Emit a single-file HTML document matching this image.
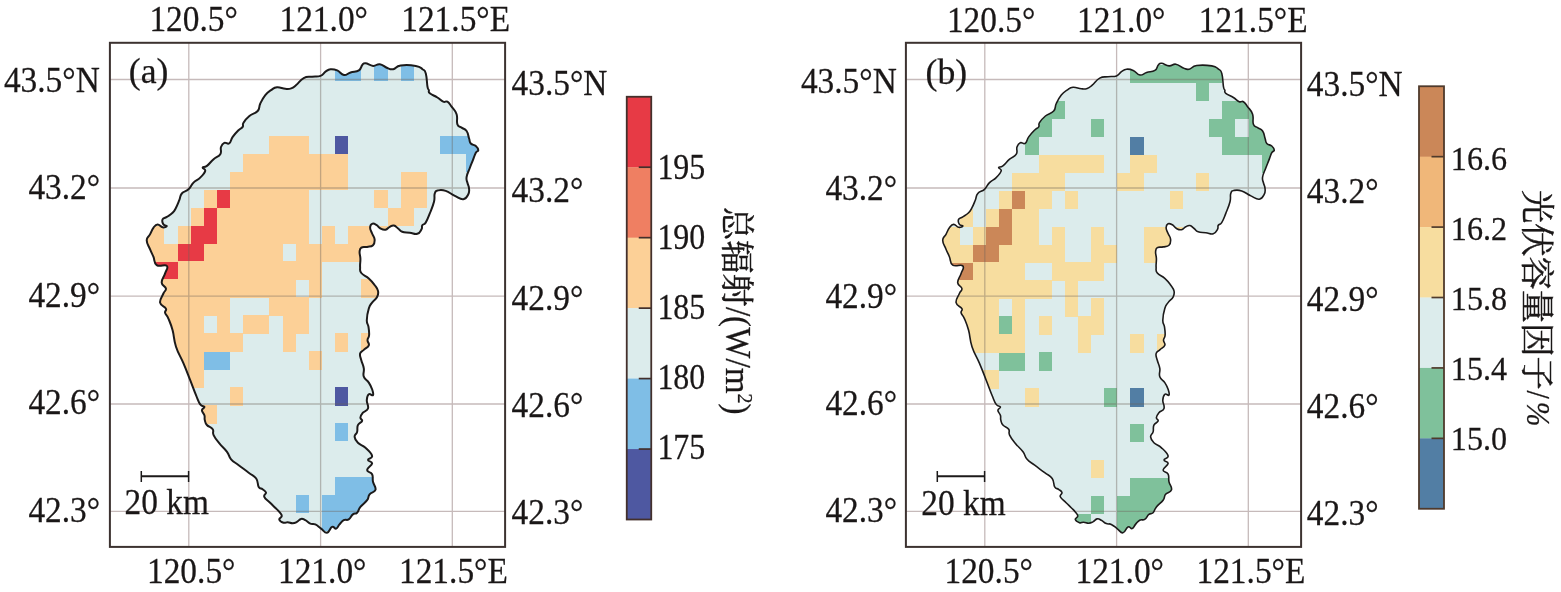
<!DOCTYPE html>
<html lang="zh"><head><meta charset="utf-8"><title>figure</title>
<style>html,body{margin:0;padding:0;background:#fff}svg{display:block}text{font-family:"Liberation Serif","Noto Serif CJK SC",serif;fill:#1a1717;stroke:#1a1717;stroke-width:0.25px}</style></head><body>
<svg width="1561" height="592" viewBox="0 0 1561 592">
<defs><clipPath id="oc"><path d="M258.70 486.90C257.21 484.38 258.53 481.81 256.20 478.50C253.87 475.19 252.78 475.80 248.70 472.70C244.62 469.60 242.81 468.33 238.70 465.20C234.59 462.07 233.83 462.43 231.10 459.30C228.37 456.17 229.73 455.51 227.00 451.80C224.27 448.09 222.53 447.30 219.40 443.40C216.27 439.50 215.16 438.41 213.60 435.10C212.04 431.79 214.26 431.56 212.70 429.20C211.14 426.84 208.74 427.15 206.90 425.00C205.06 422.85 205.38 422.26 204.80 420.00C204.22 417.74 205.08 417.56 204.40 415.30C203.72 413.04 201.90 412.26 201.90 410.30C201.90 408.34 204.80 408.28 204.40 406.90C204.00 405.52 202.16 407.13 200.20 404.40C198.24 401.67 198.33 400.85 196.00 395.20C193.67 389.55 193.12 387.62 190.20 380.20C187.28 372.78 186.81 371.22 183.50 363.40C180.19 355.58 178.54 354.42 176.00 346.70C173.46 338.98 174.37 336.86 172.60 330.30C170.83 323.74 170.15 322.71 168.40 318.60C166.65 314.49 165.68 315.03 165.10 312.70C164.52 310.37 167.07 310.93 165.90 308.60C164.73 306.27 160.68 306.22 160.10 302.70C159.52 299.18 162.05 296.81 163.40 293.50C164.75 290.19 166.30 291.04 165.90 288.50C165.50 285.96 161.89 286.12 161.70 282.60C161.51 279.08 163.91 277.30 165.10 273.40C166.29 269.50 168.76 267.84 166.80 265.90C164.84 263.96 159.83 267.25 156.70 265.10C153.57 262.95 154.96 260.41 153.40 256.70C151.84 252.99 151.56 253.03 150.00 249.20C148.44 245.37 146.70 243.75 146.70 240.30C146.70 236.85 148.44 237.32 150.00 234.40C151.56 231.48 151.63 230.13 153.40 227.80C155.17 225.47 155.45 224.52 157.60 224.40C159.75 224.28 160.45 226.90 162.60 227.30C164.75 227.70 166.61 226.78 166.80 226.10C166.99 225.42 164.38 225.96 163.40 224.40C162.42 222.84 161.81 221.15 162.60 219.40C163.39 217.65 164.47 218.46 166.80 216.90C169.13 215.34 170.45 214.85 172.60 212.70C174.75 210.55 174.44 210.62 176.00 207.70C177.56 204.78 177.95 203.51 179.30 200.20C180.65 196.89 179.65 196.04 181.80 193.50C183.95 190.96 185.77 191.84 188.50 189.30C191.23 186.76 190.77 185.33 193.50 182.60C196.23 179.87 197.47 180.33 200.20 177.60C202.93 174.87 204.62 173.23 205.20 170.90C205.78 168.57 202.30 168.77 202.70 167.60C203.10 166.43 204.36 167.86 206.90 165.90C209.44 163.94 210.47 161.93 213.60 159.20C216.73 156.47 218.57 157.05 220.30 154.20C222.03 151.35 220.07 149.66 221.00 147.00C221.93 144.34 222.36 143.66 224.30 142.80C226.24 141.94 227.34 144.68 229.30 143.30C231.26 141.92 230.55 139.96 232.70 136.90C234.85 133.84 236.17 132.53 238.50 130.20C240.83 127.87 241.53 128.65 242.70 126.90C243.87 125.15 241.94 125.24 243.50 122.70C245.06 120.16 246.09 118.73 249.40 116.00C252.71 113.27 255.16 113.92 257.70 111.00C260.24 108.08 258.53 107.21 260.30 103.50C262.07 99.79 262.78 98.23 265.30 95.10C267.82 91.97 268.37 91.92 271.10 90.10C273.83 88.28 273.69 87.60 277.00 87.30C280.31 87.00 281.99 88.54 285.30 88.80C288.61 89.06 288.66 89.26 291.20 88.40C293.74 87.54 293.28 87.50 296.20 85.10C299.12 82.70 299.99 80.06 303.70 78.10C307.41 76.14 308.18 77.21 312.10 76.70C316.02 76.19 317.37 77.07 320.50 75.90C323.63 74.73 323.17 73.26 325.50 71.70C327.83 70.14 327.77 69.50 330.50 69.20C333.23 68.90 334.07 69.05 337.20 70.40C340.33 71.75 340.77 74.51 343.90 75.00C347.03 75.49 347.10 73.57 350.60 72.50C354.10 71.43 356.17 72.15 358.90 70.40C361.63 68.65 360.74 66.66 362.30 65.00C363.86 63.34 363.08 63.09 365.60 63.30C368.12 63.51 369.79 65.69 373.10 65.90C376.41 66.11 376.49 63.71 379.80 64.20C383.11 64.69 384.17 66.83 387.30 68.00C390.43 69.17 390.07 69.78 393.20 69.20C396.33 68.62 395.43 66.27 400.70 65.50C405.97 64.73 410.71 65.04 415.80 65.90C420.89 66.76 420.17 67.45 422.50 69.20C424.83 70.95 424.63 69.29 425.80 73.40C426.97 77.51 426.80 82.90 427.50 86.80C428.20 90.70 428.26 88.58 428.80 90.10C429.34 91.62 427.79 91.57 429.80 93.30C431.81 95.03 434.27 95.54 437.40 97.50C440.53 99.46 440.87 100.72 443.20 101.70C445.53 102.68 445.44 100.53 447.40 101.70C449.36 102.87 449.45 103.78 451.60 106.70C453.75 109.62 455.25 110.09 456.60 114.20C457.95 118.31 456.23 121.17 457.40 124.30C458.57 127.43 459.45 126.04 461.60 127.60C463.75 129.16 464.85 128.46 466.60 131.00C468.35 133.54 468.12 135.58 469.10 138.50C470.08 141.42 469.24 141.75 470.80 143.50C472.36 145.25 474.05 144.44 475.80 146.00C477.55 147.56 478.30 148.64 478.30 150.20C478.30 151.76 477.08 150.32 475.80 152.70C474.52 155.08 474.20 156.83 472.80 160.40C471.40 163.97 471.25 164.13 469.80 168.00C468.35 171.87 467.14 173.50 466.60 177.00C466.06 180.50 466.94 180.39 467.50 183.00C468.06 185.61 468.81 185.59 469.00 188.20C469.19 190.81 469.63 191.63 468.30 194.20C466.97 196.77 466.43 198.80 463.30 199.20C460.17 199.60 459.01 197.84 454.90 195.90C450.79 193.96 449.60 192.18 445.70 190.90C441.80 189.62 440.74 189.82 438.20 190.40C435.66 190.98 435.78 190.76 434.80 193.40C433.82 196.04 435.17 197.03 434.00 201.70C432.83 206.37 431.74 208.52 429.80 213.40C427.86 218.28 427.45 219.85 425.70 222.60C423.95 225.35 423.28 223.64 422.30 225.20C421.32 226.76 422.67 227.29 421.50 229.30C420.33 231.31 420.03 233.01 417.30 233.80C414.57 234.59 413.32 233.17 409.80 232.70C406.28 232.23 404.93 232.78 402.20 231.80C399.47 230.82 400.04 229.97 398.10 228.50C396.16 227.03 395.86 225.90 393.90 225.50C391.94 225.10 391.66 225.82 389.70 226.80C387.74 227.78 387.65 229.30 385.50 229.70C383.35 230.10 382.65 229.64 380.50 228.50C378.35 227.36 378.26 225.90 376.30 224.80C374.34 223.70 373.55 223.12 372.10 223.80C370.65 224.48 370.10 225.44 370.10 227.70C370.10 229.96 371.05 230.77 372.10 233.50C373.15 236.23 374.39 236.67 374.60 239.40C374.81 242.13 374.75 243.45 373.00 245.20C371.25 246.95 369.83 246.32 367.10 246.90C364.37 247.48 363.05 246.53 361.30 247.70C359.55 248.87 359.81 249.36 359.60 251.90C359.39 254.44 360.28 255.08 360.40 258.60C360.52 262.12 359.89 263.64 360.10 267.00C360.31 270.36 359.27 270.34 361.30 273.00C363.33 275.66 365.70 275.60 368.80 278.40C371.90 281.20 372.45 282.08 374.60 285.00C376.75 287.92 377.39 288.15 378.00 290.90C378.61 293.65 378.58 294.07 377.20 296.80C375.82 299.53 374.06 299.87 372.10 302.60C370.14 305.33 370.04 304.39 368.80 308.50C367.56 312.61 366.87 315.91 366.80 320.20C366.73 324.49 367.96 323.40 368.50 326.90C369.04 330.40 369.33 332.10 369.10 335.20C368.87 338.30 367.57 337.84 367.50 340.20C367.43 342.56 369.66 343.04 368.80 345.30C367.94 347.56 365.83 347.96 363.80 349.90C361.77 351.84 360.68 351.17 360.10 353.60C359.52 356.03 360.44 356.85 361.30 360.30C362.16 363.75 363.22 364.57 363.80 368.40C364.38 372.23 362.63 373.39 363.80 376.70C364.97 380.01 366.86 379.66 368.80 382.60C370.74 385.54 371.12 386.38 372.10 389.30C373.08 392.22 373.77 393.93 373.00 395.10C372.23 396.27 370.25 393.13 368.80 394.30C367.35 395.47 366.99 396.79 366.80 400.10C366.61 403.41 368.91 405.56 368.00 408.50C367.09 411.44 364.67 410.55 362.90 412.70C361.13 414.85 360.59 415.76 360.40 417.70C360.21 419.64 362.68 419.25 362.10 421.00C361.52 422.75 359.07 422.66 357.90 425.20C356.73 427.74 357.87 429.17 357.10 431.90C356.33 434.63 354.41 434.36 354.60 436.90C354.79 439.44 355.36 440.26 357.90 442.80C360.44 445.34 362.19 444.74 365.50 447.80C368.81 450.86 371.52 453.05 372.10 455.90C372.68 458.75 368.00 458.25 368.00 460.00C368.00 461.75 372.31 461.04 372.10 463.40C371.89 465.76 367.10 467.58 367.10 470.10C367.10 472.62 370.72 471.47 372.10 474.20C373.48 476.93 372.21 478.16 373.00 481.80C373.79 485.44 376.29 486.88 375.50 489.80C374.71 492.72 371.56 491.87 369.60 494.30C367.64 496.73 369.25 497.26 367.10 500.20C364.95 503.14 362.73 503.98 360.40 506.90C358.07 509.82 358.85 510.95 357.10 512.70C355.35 514.45 354.86 512.84 352.90 514.40C350.94 515.96 350.85 518.05 348.70 519.40C346.55 520.75 345.85 519.03 343.70 520.20C341.55 521.37 341.25 522.44 339.50 524.40C337.75 526.36 337.95 528.02 336.20 528.60C334.45 529.18 334.15 525.92 332.00 526.90C329.85 527.88 329.54 532.40 327.00 532.80C324.46 533.20 323.83 530.56 321.10 528.60C318.37 526.64 317.82 525.57 315.30 524.40C312.78 523.23 312.63 524.58 310.30 523.60C307.97 522.62 307.45 521.30 305.30 520.20C303.15 519.10 303.06 518.50 301.10 518.90C299.14 519.30 298.86 520.90 296.90 521.90C294.94 522.90 294.85 523.13 292.70 523.20C290.55 523.27 289.85 522.32 287.70 522.20C285.55 522.08 285.46 523.35 283.50 522.70C281.54 522.05 279.70 520.94 279.30 519.40C278.90 517.86 281.80 517.85 281.80 516.10C281.80 514.35 280.84 513.86 279.30 511.90C277.76 509.94 277.35 509.85 275.20 507.70C273.05 505.55 272.64 505.24 270.10 502.70C267.56 500.16 265.26 499.16 264.30 496.80C263.34 494.44 266.40 494.35 266.00 492.60C265.60 490.85 264.30 490.63 262.60 489.30C260.90 487.97 260.19 489.42 258.70 486.90Z"/></clipPath></defs>
<rect width="1561" height="592" fill="#fff"/>
<g transform="translate(0,0)">
<line x1="188.80" y1="43" x2="188.80" y2="546.5" stroke="#c6baba" stroke-width="1.3"/>
<line x1="320.60" y1="43" x2="320.60" y2="546.5" stroke="#c6baba" stroke-width="1.3"/>
<line x1="452.30" y1="43" x2="452.30" y2="546.5" stroke="#c6baba" stroke-width="1.3"/>
<line x1="109.5" y1="79.50" x2="505.3" y2="79.50" stroke="#c6baba" stroke-width="1.3"/>
<line x1="109.5" y1="188.00" x2="505.3" y2="188.00" stroke="#c6baba" stroke-width="1.3"/>
<line x1="109.5" y1="296.20" x2="505.3" y2="296.20" stroke="#c6baba" stroke-width="1.3"/>
<line x1="109.5" y1="404.00" x2="505.3" y2="404.00" stroke="#c6baba" stroke-width="1.3"/>
<line x1="109.5" y1="511.40" x2="505.3" y2="511.40" stroke="#c6baba" stroke-width="1.3"/>
<g clip-path="url(#oc)" shape-rendering="crispEdges">
<rect x="140" y="60" width="345" height="480" fill="#dcecec"/>
<rect x="335.00" y="64.00" width="26.25" height="16.90" fill="#7fbee6"/>
<rect x="374.38" y="64.00" width="13.12" height="16.90" fill="#7fbee6"/>
<rect x="400.62" y="64.00" width="13.12" height="16.90" fill="#7fbee6"/>
<rect x="440.00" y="135.80" width="39.38" height="18.45" fill="#7fbee6"/>
<rect x="466.25" y="153.75" width="13.12" height="18.45" fill="#7fbee6"/>
<rect x="203.75" y="351.20" width="26.25" height="18.45" fill="#7fbee6"/>
<rect x="335.00" y="423.00" width="13.12" height="18.45" fill="#7fbee6"/>
<rect x="335.00" y="476.85" width="52.50" height="18.45" fill="#7fbee6"/>
<rect x="295.62" y="494.80" width="13.12" height="18.45" fill="#7fbee6"/>
<rect x="321.88" y="494.80" width="65.62" height="18.45" fill="#7fbee6"/>
<rect x="321.88" y="512.75" width="52.50" height="18.45" fill="#7fbee6"/>
<rect x="335.00" y="135.80" width="13.12" height="18.45" fill="#4e58a1"/>
<rect x="335.00" y="387.10" width="13.12" height="18.45" fill="#4e58a1"/>
<rect x="216.88" y="189.65" width="13.12" height="18.45" fill="#e73a45"/>
<rect x="203.75" y="207.60" width="13.12" height="18.45" fill="#e73a45"/>
<rect x="190.62" y="225.55" width="26.25" height="18.45" fill="#e73a45"/>
<rect x="177.50" y="243.50" width="26.25" height="18.45" fill="#e73a45"/>
<rect x="138.12" y="261.45" width="39.38" height="18.45" fill="#e73a45"/>
<rect x="269.38" y="135.80" width="39.38" height="18.45" fill="#fcd097"/>
<rect x="243.12" y="153.75" width="105.00" height="18.45" fill="#fcd097"/>
<rect x="230.00" y="171.70" width="118.12" height="18.45" fill="#fcd097"/>
<rect x="400.62" y="171.70" width="26.25" height="18.45" fill="#fcd097"/>
<rect x="203.75" y="189.65" width="13.12" height="18.45" fill="#fcd097"/>
<rect x="230.00" y="189.65" width="78.75" height="18.45" fill="#fcd097"/>
<rect x="374.38" y="189.65" width="13.12" height="18.45" fill="#fcd097"/>
<rect x="400.62" y="189.65" width="26.25" height="18.45" fill="#fcd097"/>
<rect x="190.62" y="207.60" width="13.12" height="18.45" fill="#fcd097"/>
<rect x="216.88" y="207.60" width="91.88" height="18.45" fill="#fcd097"/>
<rect x="387.50" y="207.60" width="26.25" height="18.45" fill="#fcd097"/>
<rect x="138.12" y="225.55" width="26.25" height="18.45" fill="#fcd097"/>
<rect x="177.50" y="225.55" width="13.12" height="18.45" fill="#fcd097"/>
<rect x="216.88" y="225.55" width="91.88" height="18.45" fill="#fcd097"/>
<rect x="321.88" y="225.55" width="13.12" height="18.45" fill="#fcd097"/>
<rect x="348.12" y="225.55" width="39.38" height="18.45" fill="#fcd097"/>
<rect x="138.12" y="243.50" width="39.38" height="18.45" fill="#fcd097"/>
<rect x="203.75" y="243.50" width="78.75" height="18.45" fill="#fcd097"/>
<rect x="295.62" y="243.50" width="78.75" height="18.45" fill="#fcd097"/>
<rect x="177.50" y="261.45" width="144.38" height="18.45" fill="#fcd097"/>
<rect x="138.12" y="279.40" width="157.50" height="18.45" fill="#fcd097"/>
<rect x="308.75" y="279.40" width="13.12" height="18.45" fill="#fcd097"/>
<rect x="361.25" y="279.40" width="26.25" height="18.45" fill="#fcd097"/>
<rect x="138.12" y="297.35" width="91.88" height="18.45" fill="#fcd097"/>
<rect x="269.38" y="297.35" width="39.38" height="18.45" fill="#fcd097"/>
<rect x="138.12" y="315.30" width="65.62" height="18.45" fill="#fcd097"/>
<rect x="216.88" y="315.30" width="13.12" height="18.45" fill="#fcd097"/>
<rect x="243.12" y="315.30" width="26.25" height="18.45" fill="#fcd097"/>
<rect x="282.50" y="315.30" width="26.25" height="18.45" fill="#fcd097"/>
<rect x="138.12" y="333.25" width="105.00" height="18.45" fill="#fcd097"/>
<rect x="282.50" y="333.25" width="13.12" height="18.45" fill="#fcd097"/>
<rect x="335.00" y="333.25" width="13.12" height="18.45" fill="#fcd097"/>
<rect x="361.25" y="333.25" width="26.25" height="18.45" fill="#fcd097"/>
<rect x="164.38" y="351.20" width="39.38" height="18.45" fill="#fcd097"/>
<rect x="308.75" y="351.20" width="13.12" height="18.45" fill="#fcd097"/>
<rect x="177.50" y="369.15" width="26.25" height="18.45" fill="#fcd097"/>
<rect x="230.00" y="387.10" width="13.12" height="18.45" fill="#fcd097"/>
<rect x="190.62" y="405.05" width="26.25" height="18.45" fill="#fcd097"/>
</g>
<g clip-path="url(#oc)" opacity="0.4">
<line x1="188.80" y1="43" x2="188.80" y2="546.5" stroke="#6e625a" stroke-width="1.3"/>
<line x1="320.60" y1="43" x2="320.60" y2="546.5" stroke="#6e625a" stroke-width="1.3"/>
<line x1="452.30" y1="43" x2="452.30" y2="546.5" stroke="#6e625a" stroke-width="1.3"/>
<line x1="109.5" y1="79.50" x2="505.3" y2="79.50" stroke="#6e625a" stroke-width="1.3"/>
<line x1="109.5" y1="188.00" x2="505.3" y2="188.00" stroke="#6e625a" stroke-width="1.3"/>
<line x1="109.5" y1="296.20" x2="505.3" y2="296.20" stroke="#6e625a" stroke-width="1.3"/>
<line x1="109.5" y1="404.00" x2="505.3" y2="404.00" stroke="#6e625a" stroke-width="1.3"/>
<line x1="109.5" y1="511.40" x2="505.3" y2="511.40" stroke="#6e625a" stroke-width="1.3"/>
</g>
<path d="M258.70 486.90C257.21 484.38 258.53 481.81 256.20 478.50C253.87 475.19 252.78 475.80 248.70 472.70C244.62 469.60 242.81 468.33 238.70 465.20C234.59 462.07 233.83 462.43 231.10 459.30C228.37 456.17 229.73 455.51 227.00 451.80C224.27 448.09 222.53 447.30 219.40 443.40C216.27 439.50 215.16 438.41 213.60 435.10C212.04 431.79 214.26 431.56 212.70 429.20C211.14 426.84 208.74 427.15 206.90 425.00C205.06 422.85 205.38 422.26 204.80 420.00C204.22 417.74 205.08 417.56 204.40 415.30C203.72 413.04 201.90 412.26 201.90 410.30C201.90 408.34 204.80 408.28 204.40 406.90C204.00 405.52 202.16 407.13 200.20 404.40C198.24 401.67 198.33 400.85 196.00 395.20C193.67 389.55 193.12 387.62 190.20 380.20C187.28 372.78 186.81 371.22 183.50 363.40C180.19 355.58 178.54 354.42 176.00 346.70C173.46 338.98 174.37 336.86 172.60 330.30C170.83 323.74 170.15 322.71 168.40 318.60C166.65 314.49 165.68 315.03 165.10 312.70C164.52 310.37 167.07 310.93 165.90 308.60C164.73 306.27 160.68 306.22 160.10 302.70C159.52 299.18 162.05 296.81 163.40 293.50C164.75 290.19 166.30 291.04 165.90 288.50C165.50 285.96 161.89 286.12 161.70 282.60C161.51 279.08 163.91 277.30 165.10 273.40C166.29 269.50 168.76 267.84 166.80 265.90C164.84 263.96 159.83 267.25 156.70 265.10C153.57 262.95 154.96 260.41 153.40 256.70C151.84 252.99 151.56 253.03 150.00 249.20C148.44 245.37 146.70 243.75 146.70 240.30C146.70 236.85 148.44 237.32 150.00 234.40C151.56 231.48 151.63 230.13 153.40 227.80C155.17 225.47 155.45 224.52 157.60 224.40C159.75 224.28 160.45 226.90 162.60 227.30C164.75 227.70 166.61 226.78 166.80 226.10C166.99 225.42 164.38 225.96 163.40 224.40C162.42 222.84 161.81 221.15 162.60 219.40C163.39 217.65 164.47 218.46 166.80 216.90C169.13 215.34 170.45 214.85 172.60 212.70C174.75 210.55 174.44 210.62 176.00 207.70C177.56 204.78 177.95 203.51 179.30 200.20C180.65 196.89 179.65 196.04 181.80 193.50C183.95 190.96 185.77 191.84 188.50 189.30C191.23 186.76 190.77 185.33 193.50 182.60C196.23 179.87 197.47 180.33 200.20 177.60C202.93 174.87 204.62 173.23 205.20 170.90C205.78 168.57 202.30 168.77 202.70 167.60C203.10 166.43 204.36 167.86 206.90 165.90C209.44 163.94 210.47 161.93 213.60 159.20C216.73 156.47 218.57 157.05 220.30 154.20C222.03 151.35 220.07 149.66 221.00 147.00C221.93 144.34 222.36 143.66 224.30 142.80C226.24 141.94 227.34 144.68 229.30 143.30C231.26 141.92 230.55 139.96 232.70 136.90C234.85 133.84 236.17 132.53 238.50 130.20C240.83 127.87 241.53 128.65 242.70 126.90C243.87 125.15 241.94 125.24 243.50 122.70C245.06 120.16 246.09 118.73 249.40 116.00C252.71 113.27 255.16 113.92 257.70 111.00C260.24 108.08 258.53 107.21 260.30 103.50C262.07 99.79 262.78 98.23 265.30 95.10C267.82 91.97 268.37 91.92 271.10 90.10C273.83 88.28 273.69 87.60 277.00 87.30C280.31 87.00 281.99 88.54 285.30 88.80C288.61 89.06 288.66 89.26 291.20 88.40C293.74 87.54 293.28 87.50 296.20 85.10C299.12 82.70 299.99 80.06 303.70 78.10C307.41 76.14 308.18 77.21 312.10 76.70C316.02 76.19 317.37 77.07 320.50 75.90C323.63 74.73 323.17 73.26 325.50 71.70C327.83 70.14 327.77 69.50 330.50 69.20C333.23 68.90 334.07 69.05 337.20 70.40C340.33 71.75 340.77 74.51 343.90 75.00C347.03 75.49 347.10 73.57 350.60 72.50C354.10 71.43 356.17 72.15 358.90 70.40C361.63 68.65 360.74 66.66 362.30 65.00C363.86 63.34 363.08 63.09 365.60 63.30C368.12 63.51 369.79 65.69 373.10 65.90C376.41 66.11 376.49 63.71 379.80 64.20C383.11 64.69 384.17 66.83 387.30 68.00C390.43 69.17 390.07 69.78 393.20 69.20C396.33 68.62 395.43 66.27 400.70 65.50C405.97 64.73 410.71 65.04 415.80 65.90C420.89 66.76 420.17 67.45 422.50 69.20C424.83 70.95 424.63 69.29 425.80 73.40C426.97 77.51 426.80 82.90 427.50 86.80C428.20 90.70 428.26 88.58 428.80 90.10C429.34 91.62 427.79 91.57 429.80 93.30C431.81 95.03 434.27 95.54 437.40 97.50C440.53 99.46 440.87 100.72 443.20 101.70C445.53 102.68 445.44 100.53 447.40 101.70C449.36 102.87 449.45 103.78 451.60 106.70C453.75 109.62 455.25 110.09 456.60 114.20C457.95 118.31 456.23 121.17 457.40 124.30C458.57 127.43 459.45 126.04 461.60 127.60C463.75 129.16 464.85 128.46 466.60 131.00C468.35 133.54 468.12 135.58 469.10 138.50C470.08 141.42 469.24 141.75 470.80 143.50C472.36 145.25 474.05 144.44 475.80 146.00C477.55 147.56 478.30 148.64 478.30 150.20C478.30 151.76 477.08 150.32 475.80 152.70C474.52 155.08 474.20 156.83 472.80 160.40C471.40 163.97 471.25 164.13 469.80 168.00C468.35 171.87 467.14 173.50 466.60 177.00C466.06 180.50 466.94 180.39 467.50 183.00C468.06 185.61 468.81 185.59 469.00 188.20C469.19 190.81 469.63 191.63 468.30 194.20C466.97 196.77 466.43 198.80 463.30 199.20C460.17 199.60 459.01 197.84 454.90 195.90C450.79 193.96 449.60 192.18 445.70 190.90C441.80 189.62 440.74 189.82 438.20 190.40C435.66 190.98 435.78 190.76 434.80 193.40C433.82 196.04 435.17 197.03 434.00 201.70C432.83 206.37 431.74 208.52 429.80 213.40C427.86 218.28 427.45 219.85 425.70 222.60C423.95 225.35 423.28 223.64 422.30 225.20C421.32 226.76 422.67 227.29 421.50 229.30C420.33 231.31 420.03 233.01 417.30 233.80C414.57 234.59 413.32 233.17 409.80 232.70C406.28 232.23 404.93 232.78 402.20 231.80C399.47 230.82 400.04 229.97 398.10 228.50C396.16 227.03 395.86 225.90 393.90 225.50C391.94 225.10 391.66 225.82 389.70 226.80C387.74 227.78 387.65 229.30 385.50 229.70C383.35 230.10 382.65 229.64 380.50 228.50C378.35 227.36 378.26 225.90 376.30 224.80C374.34 223.70 373.55 223.12 372.10 223.80C370.65 224.48 370.10 225.44 370.10 227.70C370.10 229.96 371.05 230.77 372.10 233.50C373.15 236.23 374.39 236.67 374.60 239.40C374.81 242.13 374.75 243.45 373.00 245.20C371.25 246.95 369.83 246.32 367.10 246.90C364.37 247.48 363.05 246.53 361.30 247.70C359.55 248.87 359.81 249.36 359.60 251.90C359.39 254.44 360.28 255.08 360.40 258.60C360.52 262.12 359.89 263.64 360.10 267.00C360.31 270.36 359.27 270.34 361.30 273.00C363.33 275.66 365.70 275.60 368.80 278.40C371.90 281.20 372.45 282.08 374.60 285.00C376.75 287.92 377.39 288.15 378.00 290.90C378.61 293.65 378.58 294.07 377.20 296.80C375.82 299.53 374.06 299.87 372.10 302.60C370.14 305.33 370.04 304.39 368.80 308.50C367.56 312.61 366.87 315.91 366.80 320.20C366.73 324.49 367.96 323.40 368.50 326.90C369.04 330.40 369.33 332.10 369.10 335.20C368.87 338.30 367.57 337.84 367.50 340.20C367.43 342.56 369.66 343.04 368.80 345.30C367.94 347.56 365.83 347.96 363.80 349.90C361.77 351.84 360.68 351.17 360.10 353.60C359.52 356.03 360.44 356.85 361.30 360.30C362.16 363.75 363.22 364.57 363.80 368.40C364.38 372.23 362.63 373.39 363.80 376.70C364.97 380.01 366.86 379.66 368.80 382.60C370.74 385.54 371.12 386.38 372.10 389.30C373.08 392.22 373.77 393.93 373.00 395.10C372.23 396.27 370.25 393.13 368.80 394.30C367.35 395.47 366.99 396.79 366.80 400.10C366.61 403.41 368.91 405.56 368.00 408.50C367.09 411.44 364.67 410.55 362.90 412.70C361.13 414.85 360.59 415.76 360.40 417.70C360.21 419.64 362.68 419.25 362.10 421.00C361.52 422.75 359.07 422.66 357.90 425.20C356.73 427.74 357.87 429.17 357.10 431.90C356.33 434.63 354.41 434.36 354.60 436.90C354.79 439.44 355.36 440.26 357.90 442.80C360.44 445.34 362.19 444.74 365.50 447.80C368.81 450.86 371.52 453.05 372.10 455.90C372.68 458.75 368.00 458.25 368.00 460.00C368.00 461.75 372.31 461.04 372.10 463.40C371.89 465.76 367.10 467.58 367.10 470.10C367.10 472.62 370.72 471.47 372.10 474.20C373.48 476.93 372.21 478.16 373.00 481.80C373.79 485.44 376.29 486.88 375.50 489.80C374.71 492.72 371.56 491.87 369.60 494.30C367.64 496.73 369.25 497.26 367.10 500.20C364.95 503.14 362.73 503.98 360.40 506.90C358.07 509.82 358.85 510.95 357.10 512.70C355.35 514.45 354.86 512.84 352.90 514.40C350.94 515.96 350.85 518.05 348.70 519.40C346.55 520.75 345.85 519.03 343.70 520.20C341.55 521.37 341.25 522.44 339.50 524.40C337.75 526.36 337.95 528.02 336.20 528.60C334.45 529.18 334.15 525.92 332.00 526.90C329.85 527.88 329.54 532.40 327.00 532.80C324.46 533.20 323.83 530.56 321.10 528.60C318.37 526.64 317.82 525.57 315.30 524.40C312.78 523.23 312.63 524.58 310.30 523.60C307.97 522.62 307.45 521.30 305.30 520.20C303.15 519.10 303.06 518.50 301.10 518.90C299.14 519.30 298.86 520.90 296.90 521.90C294.94 522.90 294.85 523.13 292.70 523.20C290.55 523.27 289.85 522.32 287.70 522.20C285.55 522.08 285.46 523.35 283.50 522.70C281.54 522.05 279.70 520.94 279.30 519.40C278.90 517.86 281.80 517.85 281.80 516.10C281.80 514.35 280.84 513.86 279.30 511.90C277.76 509.94 277.35 509.85 275.20 507.70C273.05 505.55 272.64 505.24 270.10 502.70C267.56 500.16 265.26 499.16 264.30 496.80C263.34 494.44 266.40 494.35 266.00 492.60C265.60 490.85 264.30 490.63 262.60 489.30C260.90 487.97 260.19 489.42 258.70 486.90Z" fill="none" stroke="#1c1a1a" stroke-width="2" stroke-linejoin="round"/>
<rect x="109.9" y="42.8" width="395.2" height="504.1" fill="none" stroke="#3c3230" stroke-width="2"/>
<path d="M141.3 471V482M188.6 471V482" stroke="#1c1a1a" stroke-width="1.5" fill="none"/><path d="M141.3 476.3H188.6" stroke="#1c1a1a" stroke-width="2.1" fill="none"/>
<text transform="translate(124.50,513.60) scale(0.935,1)" font-size="35.70" text-anchor="start" >20 km</text>
<text transform="translate(128.80,83.30) scale(1.000,1)" font-size="35.70" text-anchor="start" >(a)</text>
<text transform="translate(149.40,31.10) scale(0.935,1)" font-size="35.70" text-anchor="start" >120.5°</text>
<text transform="translate(279.50,31.10) scale(0.935,1)" font-size="35.70" text-anchor="start" >121.0°</text>
<text transform="translate(401.25,31.10) scale(0.935,1)" font-size="35.70" text-anchor="start" >121.5°E</text>
<text transform="translate(147.00,582.80) scale(0.935,1)" font-size="35.70" text-anchor="start" >120.5°</text>
<text transform="translate(278.00,582.80) scale(0.935,1)" font-size="35.70" text-anchor="start" >121.0°</text>
<text transform="translate(399.00,582.80) scale(0.935,1)" font-size="35.70" text-anchor="start" >121.5°E</text>
<text transform="translate(3.90,91.70) scale(0.935,1)" font-size="35.70" text-anchor="start" >43.5°N</text>
<text transform="translate(511.60,95.00) scale(0.935,1)" font-size="35.70" text-anchor="start" >43.5°N</text>
<text transform="translate(28.40,199.15) scale(0.935,1)" font-size="35.70" text-anchor="start" >43.2°</text>
<text transform="translate(511.60,202.35) scale(0.935,1)" font-size="35.70" text-anchor="start" >43.2°</text>
<text transform="translate(28.40,306.60) scale(0.935,1)" font-size="35.70" text-anchor="start" >42.9°</text>
<text transform="translate(511.60,309.70) scale(0.935,1)" font-size="35.70" text-anchor="start" >42.9°</text>
<text transform="translate(28.40,414.05) scale(0.935,1)" font-size="35.70" text-anchor="start" >42.6°</text>
<text transform="translate(511.60,417.05) scale(0.935,1)" font-size="35.70" text-anchor="start" >42.6°</text>
<text transform="translate(28.40,521.50) scale(0.935,1)" font-size="35.70" text-anchor="start" >42.3°</text>
<text transform="translate(511.60,524.40) scale(0.935,1)" font-size="35.70" text-anchor="start" >42.3°</text>
</g>
<g transform="translate(796,0)">
<line x1="188.80" y1="43" x2="188.80" y2="546.5" stroke="#c6baba" stroke-width="1.3"/>
<line x1="320.60" y1="43" x2="320.60" y2="546.5" stroke="#c6baba" stroke-width="1.3"/>
<line x1="452.30" y1="43" x2="452.30" y2="546.5" stroke="#c6baba" stroke-width="1.3"/>
<line x1="109.5" y1="79.50" x2="505.3" y2="79.50" stroke="#c6baba" stroke-width="1.3"/>
<line x1="109.5" y1="188.00" x2="505.3" y2="188.00" stroke="#c6baba" stroke-width="1.3"/>
<line x1="109.5" y1="296.20" x2="505.3" y2="296.20" stroke="#c6baba" stroke-width="1.3"/>
<line x1="109.5" y1="404.00" x2="505.3" y2="404.00" stroke="#c6baba" stroke-width="1.3"/>
<line x1="109.5" y1="511.40" x2="505.3" y2="511.40" stroke="#c6baba" stroke-width="1.3"/>
<g clip-path="url(#oc)" shape-rendering="crispEdges">
<rect x="140" y="60" width="345" height="480" fill="#dcecec"/>
<rect x="334.40" y="65.00" width="91.88" height="18.45" fill="#7fc19b"/>
<rect x="400.02" y="82.95" width="13.12" height="18.45" fill="#7fc19b"/>
<rect x="242.52" y="100.90" width="26.25" height="18.45" fill="#7fc19b"/>
<rect x="426.27" y="100.90" width="39.38" height="18.45" fill="#7fc19b"/>
<rect x="229.40" y="118.85" width="26.25" height="18.45" fill="#7fc19b"/>
<rect x="295.02" y="118.85" width="13.12" height="18.45" fill="#7fc19b"/>
<rect x="413.15" y="118.85" width="26.25" height="18.45" fill="#7fc19b"/>
<rect x="452.52" y="118.85" width="26.25" height="18.45" fill="#7fc19b"/>
<rect x="229.40" y="136.80" width="13.12" height="18.45" fill="#7fc19b"/>
<rect x="426.27" y="136.80" width="52.50" height="18.45" fill="#7fc19b"/>
<rect x="465.65" y="154.75" width="13.12" height="18.45" fill="#7fc19b"/>
<rect x="203.15" y="316.30" width="13.12" height="18.45" fill="#7fc19b"/>
<rect x="203.15" y="352.20" width="26.25" height="18.45" fill="#7fc19b"/>
<rect x="242.52" y="352.20" width="13.12" height="18.45" fill="#7fc19b"/>
<rect x="308.15" y="388.10" width="13.12" height="18.45" fill="#7fc19b"/>
<rect x="334.40" y="424.00" width="13.12" height="18.45" fill="#7fc19b"/>
<rect x="334.40" y="477.85" width="52.50" height="18.45" fill="#7fc19b"/>
<rect x="295.02" y="495.80" width="13.12" height="18.45" fill="#7fc19b"/>
<rect x="321.27" y="495.80" width="65.62" height="18.45" fill="#7fc19b"/>
<rect x="268.77" y="513.75" width="26.25" height="18.45" fill="#7fc19b"/>
<rect x="321.27" y="513.75" width="52.50" height="18.45" fill="#7fc19b"/>
<rect x="334.40" y="136.80" width="13.12" height="18.45" fill="#527ea4"/>
<rect x="334.40" y="388.10" width="13.12" height="18.45" fill="#527ea4"/>
<rect x="216.27" y="190.65" width="13.12" height="18.45" fill="#cb8758"/>
<rect x="203.15" y="208.60" width="13.12" height="18.45" fill="#cb8758"/>
<rect x="190.02" y="226.55" width="26.25" height="18.45" fill="#cb8758"/>
<rect x="176.90" y="244.50" width="26.25" height="18.45" fill="#cb8758"/>
<rect x="137.52" y="262.45" width="39.38" height="18.45" fill="#cb8758"/>
<rect x="242.52" y="154.75" width="65.62" height="18.45" fill="#f7dd9f"/>
<rect x="334.40" y="154.75" width="26.25" height="18.45" fill="#f7dd9f"/>
<rect x="216.27" y="172.70" width="52.50" height="18.45" fill="#f7dd9f"/>
<rect x="321.27" y="172.70" width="26.25" height="18.45" fill="#f7dd9f"/>
<rect x="400.02" y="172.70" width="13.12" height="18.45" fill="#f7dd9f"/>
<rect x="203.15" y="190.65" width="13.12" height="18.45" fill="#f7dd9f"/>
<rect x="229.40" y="190.65" width="26.25" height="18.45" fill="#f7dd9f"/>
<rect x="268.77" y="190.65" width="13.12" height="18.45" fill="#f7dd9f"/>
<rect x="373.77" y="190.65" width="13.12" height="18.45" fill="#f7dd9f"/>
<rect x="163.77" y="208.60" width="13.12" height="18.45" fill="#f7dd9f"/>
<rect x="190.02" y="208.60" width="13.12" height="18.45" fill="#f7dd9f"/>
<rect x="216.27" y="208.60" width="26.25" height="18.45" fill="#f7dd9f"/>
<rect x="137.52" y="226.55" width="26.25" height="18.45" fill="#f7dd9f"/>
<rect x="176.90" y="226.55" width="13.12" height="18.45" fill="#f7dd9f"/>
<rect x="216.27" y="226.55" width="26.25" height="18.45" fill="#f7dd9f"/>
<rect x="255.65" y="226.55" width="13.12" height="18.45" fill="#f7dd9f"/>
<rect x="295.02" y="226.55" width="13.12" height="18.45" fill="#f7dd9f"/>
<rect x="347.52" y="226.55" width="39.38" height="18.45" fill="#f7dd9f"/>
<rect x="137.52" y="244.50" width="39.38" height="18.45" fill="#f7dd9f"/>
<rect x="203.15" y="244.50" width="65.62" height="18.45" fill="#f7dd9f"/>
<rect x="295.02" y="244.50" width="26.25" height="18.45" fill="#f7dd9f"/>
<rect x="347.52" y="244.50" width="26.25" height="18.45" fill="#f7dd9f"/>
<rect x="176.90" y="262.45" width="52.50" height="18.45" fill="#f7dd9f"/>
<rect x="255.65" y="262.45" width="52.50" height="18.45" fill="#f7dd9f"/>
<rect x="137.52" y="280.40" width="118.12" height="18.45" fill="#f7dd9f"/>
<rect x="268.77" y="280.40" width="13.12" height="18.45" fill="#f7dd9f"/>
<rect x="137.52" y="298.35" width="65.62" height="18.45" fill="#f7dd9f"/>
<rect x="216.27" y="298.35" width="13.12" height="18.45" fill="#f7dd9f"/>
<rect x="268.77" y="298.35" width="13.12" height="18.45" fill="#f7dd9f"/>
<rect x="295.02" y="298.35" width="13.12" height="18.45" fill="#f7dd9f"/>
<rect x="137.52" y="316.30" width="65.62" height="18.45" fill="#f7dd9f"/>
<rect x="216.27" y="316.30" width="13.12" height="18.45" fill="#f7dd9f"/>
<rect x="242.52" y="316.30" width="13.12" height="18.45" fill="#f7dd9f"/>
<rect x="281.90" y="316.30" width="26.25" height="18.45" fill="#f7dd9f"/>
<rect x="137.52" y="334.25" width="91.88" height="18.45" fill="#f7dd9f"/>
<rect x="281.90" y="334.25" width="13.12" height="18.45" fill="#f7dd9f"/>
<rect x="334.40" y="334.25" width="13.12" height="18.45" fill="#f7dd9f"/>
<rect x="360.65" y="334.25" width="26.25" height="18.45" fill="#f7dd9f"/>
<rect x="176.90" y="370.15" width="26.25" height="18.45" fill="#f7dd9f"/>
<rect x="229.40" y="388.10" width="13.12" height="18.45" fill="#f7dd9f"/>
<rect x="295.02" y="459.90" width="13.12" height="18.45" fill="#f7dd9f"/>
</g>
<g clip-path="url(#oc)" opacity="0.4">
<line x1="188.80" y1="43" x2="188.80" y2="546.5" stroke="#6e625a" stroke-width="1.3"/>
<line x1="320.60" y1="43" x2="320.60" y2="546.5" stroke="#6e625a" stroke-width="1.3"/>
<line x1="452.30" y1="43" x2="452.30" y2="546.5" stroke="#6e625a" stroke-width="1.3"/>
<line x1="109.5" y1="79.50" x2="505.3" y2="79.50" stroke="#6e625a" stroke-width="1.3"/>
<line x1="109.5" y1="188.00" x2="505.3" y2="188.00" stroke="#6e625a" stroke-width="1.3"/>
<line x1="109.5" y1="296.20" x2="505.3" y2="296.20" stroke="#6e625a" stroke-width="1.3"/>
<line x1="109.5" y1="404.00" x2="505.3" y2="404.00" stroke="#6e625a" stroke-width="1.3"/>
<line x1="109.5" y1="511.40" x2="505.3" y2="511.40" stroke="#6e625a" stroke-width="1.3"/>
</g>
<path d="M258.70 486.90C257.21 484.38 258.53 481.81 256.20 478.50C253.87 475.19 252.78 475.80 248.70 472.70C244.62 469.60 242.81 468.33 238.70 465.20C234.59 462.07 233.83 462.43 231.10 459.30C228.37 456.17 229.73 455.51 227.00 451.80C224.27 448.09 222.53 447.30 219.40 443.40C216.27 439.50 215.16 438.41 213.60 435.10C212.04 431.79 214.26 431.56 212.70 429.20C211.14 426.84 208.74 427.15 206.90 425.00C205.06 422.85 205.38 422.26 204.80 420.00C204.22 417.74 205.08 417.56 204.40 415.30C203.72 413.04 201.90 412.26 201.90 410.30C201.90 408.34 204.80 408.28 204.40 406.90C204.00 405.52 202.16 407.13 200.20 404.40C198.24 401.67 198.33 400.85 196.00 395.20C193.67 389.55 193.12 387.62 190.20 380.20C187.28 372.78 186.81 371.22 183.50 363.40C180.19 355.58 178.54 354.42 176.00 346.70C173.46 338.98 174.37 336.86 172.60 330.30C170.83 323.74 170.15 322.71 168.40 318.60C166.65 314.49 165.68 315.03 165.10 312.70C164.52 310.37 167.07 310.93 165.90 308.60C164.73 306.27 160.68 306.22 160.10 302.70C159.52 299.18 162.05 296.81 163.40 293.50C164.75 290.19 166.30 291.04 165.90 288.50C165.50 285.96 161.89 286.12 161.70 282.60C161.51 279.08 163.91 277.30 165.10 273.40C166.29 269.50 168.76 267.84 166.80 265.90C164.84 263.96 159.83 267.25 156.70 265.10C153.57 262.95 154.96 260.41 153.40 256.70C151.84 252.99 151.56 253.03 150.00 249.20C148.44 245.37 146.70 243.75 146.70 240.30C146.70 236.85 148.44 237.32 150.00 234.40C151.56 231.48 151.63 230.13 153.40 227.80C155.17 225.47 155.45 224.52 157.60 224.40C159.75 224.28 160.45 226.90 162.60 227.30C164.75 227.70 166.61 226.78 166.80 226.10C166.99 225.42 164.38 225.96 163.40 224.40C162.42 222.84 161.81 221.15 162.60 219.40C163.39 217.65 164.47 218.46 166.80 216.90C169.13 215.34 170.45 214.85 172.60 212.70C174.75 210.55 174.44 210.62 176.00 207.70C177.56 204.78 177.95 203.51 179.30 200.20C180.65 196.89 179.65 196.04 181.80 193.50C183.95 190.96 185.77 191.84 188.50 189.30C191.23 186.76 190.77 185.33 193.50 182.60C196.23 179.87 197.47 180.33 200.20 177.60C202.93 174.87 204.62 173.23 205.20 170.90C205.78 168.57 202.30 168.77 202.70 167.60C203.10 166.43 204.36 167.86 206.90 165.90C209.44 163.94 210.47 161.93 213.60 159.20C216.73 156.47 218.57 157.05 220.30 154.20C222.03 151.35 220.07 149.66 221.00 147.00C221.93 144.34 222.36 143.66 224.30 142.80C226.24 141.94 227.34 144.68 229.30 143.30C231.26 141.92 230.55 139.96 232.70 136.90C234.85 133.84 236.17 132.53 238.50 130.20C240.83 127.87 241.53 128.65 242.70 126.90C243.87 125.15 241.94 125.24 243.50 122.70C245.06 120.16 246.09 118.73 249.40 116.00C252.71 113.27 255.16 113.92 257.70 111.00C260.24 108.08 258.53 107.21 260.30 103.50C262.07 99.79 262.78 98.23 265.30 95.10C267.82 91.97 268.37 91.92 271.10 90.10C273.83 88.28 273.69 87.60 277.00 87.30C280.31 87.00 281.99 88.54 285.30 88.80C288.61 89.06 288.66 89.26 291.20 88.40C293.74 87.54 293.28 87.50 296.20 85.10C299.12 82.70 299.99 80.06 303.70 78.10C307.41 76.14 308.18 77.21 312.10 76.70C316.02 76.19 317.37 77.07 320.50 75.90C323.63 74.73 323.17 73.26 325.50 71.70C327.83 70.14 327.77 69.50 330.50 69.20C333.23 68.90 334.07 69.05 337.20 70.40C340.33 71.75 340.77 74.51 343.90 75.00C347.03 75.49 347.10 73.57 350.60 72.50C354.10 71.43 356.17 72.15 358.90 70.40C361.63 68.65 360.74 66.66 362.30 65.00C363.86 63.34 363.08 63.09 365.60 63.30C368.12 63.51 369.79 65.69 373.10 65.90C376.41 66.11 376.49 63.71 379.80 64.20C383.11 64.69 384.17 66.83 387.30 68.00C390.43 69.17 390.07 69.78 393.20 69.20C396.33 68.62 395.43 66.27 400.70 65.50C405.97 64.73 410.71 65.04 415.80 65.90C420.89 66.76 420.17 67.45 422.50 69.20C424.83 70.95 424.63 69.29 425.80 73.40C426.97 77.51 426.80 82.90 427.50 86.80C428.20 90.70 428.26 88.58 428.80 90.10C429.34 91.62 427.79 91.57 429.80 93.30C431.81 95.03 434.27 95.54 437.40 97.50C440.53 99.46 440.87 100.72 443.20 101.70C445.53 102.68 445.44 100.53 447.40 101.70C449.36 102.87 449.45 103.78 451.60 106.70C453.75 109.62 455.25 110.09 456.60 114.20C457.95 118.31 456.23 121.17 457.40 124.30C458.57 127.43 459.45 126.04 461.60 127.60C463.75 129.16 464.85 128.46 466.60 131.00C468.35 133.54 468.12 135.58 469.10 138.50C470.08 141.42 469.24 141.75 470.80 143.50C472.36 145.25 474.05 144.44 475.80 146.00C477.55 147.56 478.30 148.64 478.30 150.20C478.30 151.76 477.08 150.32 475.80 152.70C474.52 155.08 474.20 156.83 472.80 160.40C471.40 163.97 471.25 164.13 469.80 168.00C468.35 171.87 467.14 173.50 466.60 177.00C466.06 180.50 466.94 180.39 467.50 183.00C468.06 185.61 468.81 185.59 469.00 188.20C469.19 190.81 469.63 191.63 468.30 194.20C466.97 196.77 466.43 198.80 463.30 199.20C460.17 199.60 459.01 197.84 454.90 195.90C450.79 193.96 449.60 192.18 445.70 190.90C441.80 189.62 440.74 189.82 438.20 190.40C435.66 190.98 435.78 190.76 434.80 193.40C433.82 196.04 435.17 197.03 434.00 201.70C432.83 206.37 431.74 208.52 429.80 213.40C427.86 218.28 427.45 219.85 425.70 222.60C423.95 225.35 423.28 223.64 422.30 225.20C421.32 226.76 422.67 227.29 421.50 229.30C420.33 231.31 420.03 233.01 417.30 233.80C414.57 234.59 413.32 233.17 409.80 232.70C406.28 232.23 404.93 232.78 402.20 231.80C399.47 230.82 400.04 229.97 398.10 228.50C396.16 227.03 395.86 225.90 393.90 225.50C391.94 225.10 391.66 225.82 389.70 226.80C387.74 227.78 387.65 229.30 385.50 229.70C383.35 230.10 382.65 229.64 380.50 228.50C378.35 227.36 378.26 225.90 376.30 224.80C374.34 223.70 373.55 223.12 372.10 223.80C370.65 224.48 370.10 225.44 370.10 227.70C370.10 229.96 371.05 230.77 372.10 233.50C373.15 236.23 374.39 236.67 374.60 239.40C374.81 242.13 374.75 243.45 373.00 245.20C371.25 246.95 369.83 246.32 367.10 246.90C364.37 247.48 363.05 246.53 361.30 247.70C359.55 248.87 359.81 249.36 359.60 251.90C359.39 254.44 360.28 255.08 360.40 258.60C360.52 262.12 359.89 263.64 360.10 267.00C360.31 270.36 359.27 270.34 361.30 273.00C363.33 275.66 365.70 275.60 368.80 278.40C371.90 281.20 372.45 282.08 374.60 285.00C376.75 287.92 377.39 288.15 378.00 290.90C378.61 293.65 378.58 294.07 377.20 296.80C375.82 299.53 374.06 299.87 372.10 302.60C370.14 305.33 370.04 304.39 368.80 308.50C367.56 312.61 366.87 315.91 366.80 320.20C366.73 324.49 367.96 323.40 368.50 326.90C369.04 330.40 369.33 332.10 369.10 335.20C368.87 338.30 367.57 337.84 367.50 340.20C367.43 342.56 369.66 343.04 368.80 345.30C367.94 347.56 365.83 347.96 363.80 349.90C361.77 351.84 360.68 351.17 360.10 353.60C359.52 356.03 360.44 356.85 361.30 360.30C362.16 363.75 363.22 364.57 363.80 368.40C364.38 372.23 362.63 373.39 363.80 376.70C364.97 380.01 366.86 379.66 368.80 382.60C370.74 385.54 371.12 386.38 372.10 389.30C373.08 392.22 373.77 393.93 373.00 395.10C372.23 396.27 370.25 393.13 368.80 394.30C367.35 395.47 366.99 396.79 366.80 400.10C366.61 403.41 368.91 405.56 368.00 408.50C367.09 411.44 364.67 410.55 362.90 412.70C361.13 414.85 360.59 415.76 360.40 417.70C360.21 419.64 362.68 419.25 362.10 421.00C361.52 422.75 359.07 422.66 357.90 425.20C356.73 427.74 357.87 429.17 357.10 431.90C356.33 434.63 354.41 434.36 354.60 436.90C354.79 439.44 355.36 440.26 357.90 442.80C360.44 445.34 362.19 444.74 365.50 447.80C368.81 450.86 371.52 453.05 372.10 455.90C372.68 458.75 368.00 458.25 368.00 460.00C368.00 461.75 372.31 461.04 372.10 463.40C371.89 465.76 367.10 467.58 367.10 470.10C367.10 472.62 370.72 471.47 372.10 474.20C373.48 476.93 372.21 478.16 373.00 481.80C373.79 485.44 376.29 486.88 375.50 489.80C374.71 492.72 371.56 491.87 369.60 494.30C367.64 496.73 369.25 497.26 367.10 500.20C364.95 503.14 362.73 503.98 360.40 506.90C358.07 509.82 358.85 510.95 357.10 512.70C355.35 514.45 354.86 512.84 352.90 514.40C350.94 515.96 350.85 518.05 348.70 519.40C346.55 520.75 345.85 519.03 343.70 520.20C341.55 521.37 341.25 522.44 339.50 524.40C337.75 526.36 337.95 528.02 336.20 528.60C334.45 529.18 334.15 525.92 332.00 526.90C329.85 527.88 329.54 532.40 327.00 532.80C324.46 533.20 323.83 530.56 321.10 528.60C318.37 526.64 317.82 525.57 315.30 524.40C312.78 523.23 312.63 524.58 310.30 523.60C307.97 522.62 307.45 521.30 305.30 520.20C303.15 519.10 303.06 518.50 301.10 518.90C299.14 519.30 298.86 520.90 296.90 521.90C294.94 522.90 294.85 523.13 292.70 523.20C290.55 523.27 289.85 522.32 287.70 522.20C285.55 522.08 285.46 523.35 283.50 522.70C281.54 522.05 279.70 520.94 279.30 519.40C278.90 517.86 281.80 517.85 281.80 516.10C281.80 514.35 280.84 513.86 279.30 511.90C277.76 509.94 277.35 509.85 275.20 507.70C273.05 505.55 272.64 505.24 270.10 502.70C267.56 500.16 265.26 499.16 264.30 496.80C263.34 494.44 266.40 494.35 266.00 492.60C265.60 490.85 264.30 490.63 262.60 489.30C260.90 487.97 260.19 489.42 258.70 486.90Z" fill="none" stroke="#1c1a1a" stroke-width="1.6" stroke-linejoin="round"/>
<rect x="109.9" y="42.8" width="395.2" height="504.1" fill="none" stroke="#3c3230" stroke-width="2"/>
<path d="M141.3 471V482M188.6 471V482" stroke="#1c1a1a" stroke-width="1.5" fill="none"/><path d="M141.3 476.3H188.6" stroke="#1c1a1a" stroke-width="2.1" fill="none"/>
<text transform="translate(125.30,514.50) scale(0.935,1)" font-size="35.70" text-anchor="start" >20 km</text>
<text transform="translate(129.50,84.10) scale(1.000,1)" font-size="35.70" text-anchor="start" >(b)</text>
<text transform="translate(150.90,31.90) scale(0.935,1)" font-size="35.70" text-anchor="start" >120.5°</text>
<text transform="translate(281.00,31.90) scale(0.935,1)" font-size="35.70" text-anchor="start" >121.0°</text>
<text transform="translate(402.75,31.90) scale(0.935,1)" font-size="35.70" text-anchor="start" >121.5°E</text>
<text transform="translate(148.50,582.90) scale(0.935,1)" font-size="35.70" text-anchor="start" >120.5°</text>
<text transform="translate(279.50,582.90) scale(0.935,1)" font-size="35.70" text-anchor="start" >121.0°</text>
<text transform="translate(400.50,582.90) scale(0.935,1)" font-size="35.70" text-anchor="start" >121.5°E</text>
<text transform="translate(4.90,92.80) scale(0.935,1)" font-size="35.70" text-anchor="start" >43.5°N</text>
<text transform="translate(510.80,95.90) scale(0.935,1)" font-size="35.70" text-anchor="start" >43.5°N</text>
<text transform="translate(29.40,200.20) scale(0.935,1)" font-size="35.70" text-anchor="start" >43.2°</text>
<text transform="translate(510.80,203.20) scale(0.935,1)" font-size="35.70" text-anchor="start" >43.2°</text>
<text transform="translate(29.40,307.60) scale(0.935,1)" font-size="35.70" text-anchor="start" >42.9°</text>
<text transform="translate(510.80,310.60) scale(0.935,1)" font-size="35.70" text-anchor="start" >42.9°</text>
<text transform="translate(29.40,414.90) scale(0.935,1)" font-size="35.70" text-anchor="start" >42.6°</text>
<text transform="translate(510.80,417.90) scale(0.935,1)" font-size="35.70" text-anchor="start" >42.6°</text>
<text transform="translate(29.40,522.30) scale(0.935,1)" font-size="35.70" text-anchor="start" >42.3°</text>
<text transform="translate(510.80,525.20) scale(0.935,1)" font-size="35.70" text-anchor="start" >42.3°</text>
</g>
<rect x="626.75" y="96.75" width="24.50" height="70.76" fill="#e73a45"/>
<rect x="626.75" y="167.21" width="24.50" height="70.76" fill="#ef7f62"/>
<rect x="626.75" y="237.67" width="24.50" height="70.76" fill="#fcd097"/>
<rect x="626.75" y="308.13" width="24.50" height="70.76" fill="#dcecec"/>
<rect x="626.75" y="378.59" width="24.50" height="70.76" fill="#7fbee6"/>
<rect x="626.75" y="449.05" width="24.50" height="70.76" fill="#4e58a1"/>
<rect x="626.75" y="96.75" width="24.50" height="422.76" fill="none" stroke="#43302c" stroke-width="1.8"/>
<line x1="638.75" y1="167.21" x2="651.25" y2="167.21" stroke="#43302c" stroke-width="1.7"/>
<text transform="translate(657.40,179.25) scale(0.912,1)" font-size="35.00" text-anchor="start" >195</text>
<line x1="638.75" y1="237.67" x2="651.25" y2="237.67" stroke="#43302c" stroke-width="1.7"/>
<text transform="translate(657.40,249.25) scale(0.912,1)" font-size="35.00" text-anchor="start" >190</text>
<line x1="638.75" y1="308.13" x2="651.25" y2="308.13" stroke="#43302c" stroke-width="1.7"/>
<text transform="translate(657.40,319.25) scale(0.912,1)" font-size="35.00" text-anchor="start" >185</text>
<line x1="638.75" y1="378.59" x2="651.25" y2="378.59" stroke="#43302c" stroke-width="1.7"/>
<text transform="translate(657.40,389.25) scale(0.912,1)" font-size="35.00" text-anchor="start" >180</text>
<line x1="638.75" y1="449.05" x2="651.25" y2="449.05" stroke="#43302c" stroke-width="1.7"/>
<text transform="translate(657.40,459.25) scale(0.912,1)" font-size="35.00" text-anchor="start" >175</text>
<rect x="1419.00" y="86.25" width="25.00" height="70.72" fill="#cb8758"/>
<rect x="1419.00" y="156.67" width="25.00" height="70.72" fill="#f0b779"/>
<rect x="1419.00" y="227.09" width="25.00" height="70.72" fill="#f7dd9f"/>
<rect x="1419.00" y="297.51" width="25.00" height="70.72" fill="#dcecec"/>
<rect x="1419.00" y="367.93" width="25.00" height="70.72" fill="#7fc19b"/>
<rect x="1419.00" y="438.35" width="25.00" height="70.72" fill="#527ea4"/>
<rect x="1419.00" y="86.25" width="25.00" height="422.52" fill="none" stroke="#4f3a2c" stroke-width="1.8"/>
<line x1="1431.50" y1="156.67" x2="1444.00" y2="156.67" stroke="#4f3a2c" stroke-width="1.7"/>
<text transform="translate(1450.80,169.60) scale(0.935,1)" font-size="34.40" text-anchor="start" >16.6</text>
<line x1="1431.50" y1="227.09" x2="1444.00" y2="227.09" stroke="#4f3a2c" stroke-width="1.7"/>
<text transform="translate(1450.80,239.67) scale(0.935,1)" font-size="34.40" text-anchor="start" >16.2</text>
<line x1="1431.50" y1="297.51" x2="1444.00" y2="297.51" stroke="#4f3a2c" stroke-width="1.7"/>
<text transform="translate(1450.80,309.73) scale(0.935,1)" font-size="34.40" text-anchor="start" >15.8</text>
<line x1="1431.50" y1="367.93" x2="1444.00" y2="367.93" stroke="#4f3a2c" stroke-width="1.7"/>
<text transform="translate(1450.80,379.80) scale(0.935,1)" font-size="34.40" text-anchor="start" >15.4</text>
<line x1="1431.50" y1="438.35" x2="1444.00" y2="438.35" stroke="#4f3a2c" stroke-width="1.7"/>
<text transform="translate(1450.80,449.87) scale(0.935,1)" font-size="34.40" text-anchor="start" >15.0</text>
<text transform="translate(725,207) rotate(90) scale(0.968,1)" font-size="34.4" style="stroke-width:0.45px">总辐射</text>
<text transform="translate(726,306.9) rotate(90) scale(0.935,1)" font-size="35.5">/(W/m<tspan font-size="21.5" dy="-12.5">2</tspan><tspan dy="12.5">)</tspan></text>
<text transform="translate(1525.2,190) rotate(90) scale(0.968,1)" font-size="34.4" style="stroke-width:0.45px">光伏容量因子</text>
<text transform="translate(1527,390.4) rotate(90) scale(0.88,1)" font-size="33.7">/<tspan font-style="italic" dx="3.5">%</tspan></text>
</svg></body></html>
